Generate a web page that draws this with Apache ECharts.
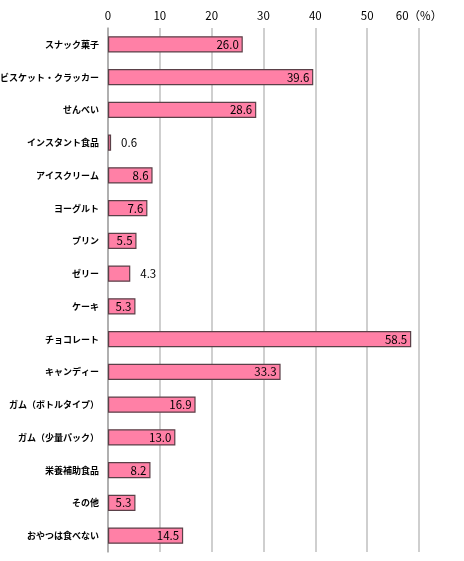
<!DOCTYPE html>
<html><head><meta charset="utf-8">
<script src="https://cdn.jsdelivr.net/npm/echarts@6/dist/echarts.min.js"></script>
<style>html,body{margin:0;padding:0;background:#fff}#c{width:464px;height:561px}</style>
</head><body><div id="c"></div>
<script>
const categories = ['スナック菓子','ビスケット・クラッカー','せんべい','インスタント食品','アイスクリーム','ヨーグルト','プリン','ゼリー','ケーキ','チョコレート','キャンディー','ガム（ボトルタイプ）','ガム（少量パック）','栄養補助食品','その他','おやつは食べない'];
const values = [26.0,39.6,28.6,0.6,8.6,7.6,5.5,4.3,5.3,58.5,33.3,16.9,13.0,8.2,5.3,14.5];
const xTicks = [0,10,20,30,40,50,60];

const chart = echarts.init(document.getElementById('c'));
const font = '"Noto Sans CJK JP","Noto Sans",sans-serif';
chart.setOption({
  animation:false,
  grid:{left:108,right:45,top:28,bottom:9,containLabel:false,outerBoundsMode:'none'},
  xAxis:{type:'value',position:'top',min:xTicks[0],max:xTicks[xTicks.length-1],interval:10,
    axisLine:{show:false},axisTick:{show:false},
    axisLabel:{color:'#000',fontSize:11.5,fontFamily:font,margin:7,
      formatter:v=>v===60?'60（%）':String(v)},
    splitLine:{lineStyle:{color:'#bfbfbf',width:1.5}}},
  yAxis:{type:'category',inverse:true,data:categories,
    axisLine:{lineStyle:{color:'#a6a6a6',width:1.5}},
    axisTick:{length:4,lineStyle:{color:'#a6a6a6'}},
    axisLabel:{color:'#000',fontSize:9,fontWeight:'bold',fontFamily:font,margin:9}},
  series:[{type:'bar',barWidth:'50%',
    itemStyle:{color:'#ff80a6',borderColor:'#5a4048',borderWidth:1.2},
    data:values.map(v=>({value:v,label:{position:v<5?'right':'insideRight',distance:v<5?10:4}})),
    label:{show:true,color:'#000',fontSize:11.5,fontFamily:font,formatter:p=>p.value.toFixed(1)}}]
});
</script></body></html>
